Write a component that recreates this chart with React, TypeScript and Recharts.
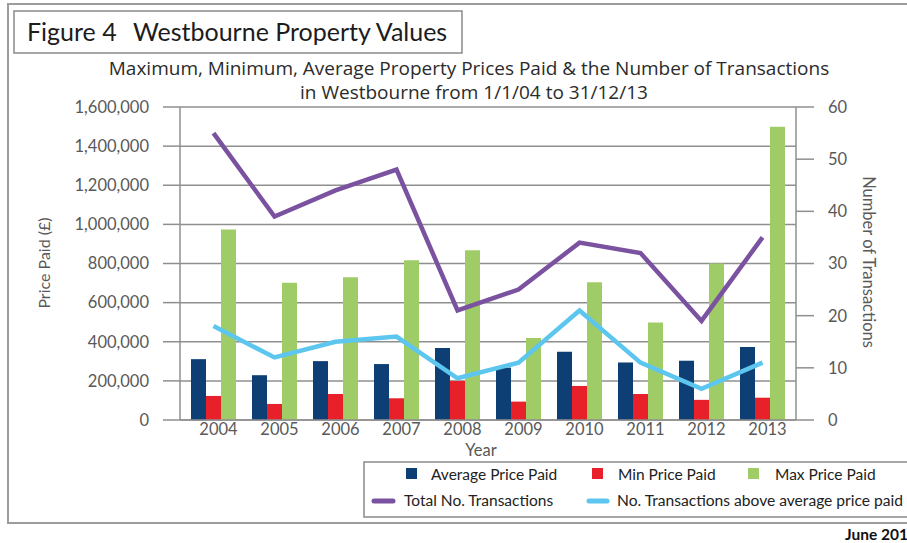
import React from 'react';
import { ComposedChart, Bar, Line, XAxis, YAxis, CartesianGrid } from 'recharts';

const years = ['2004', '2005', '2006', '2007', '2008', '2009', '2010', '2011', '2012', '2013'];
const avgPrice = [311000, 229000, 301000, 286000, 368000, 268000, 349000, 294000, 303000, 373000];
const minPrice = [123000, 82000, 133000, 111000, 200000, 94000, 174000, 133000, 103000, 114000];
const maxPrice = [974000, 701000, 730000, 817000, 868000, 419000, 704000, 499000, 800000, 1499000];
const totalTx = [55, 39, 44, 48, 21, 25, 34, 32, 19, 35];
const aboveAvgTx = [18, 12, 15, 16, 8, 11, 21, 11, 6, 11];

const priceTicks = [0, 200000, 400000, 600000, 800000, 1000000, 1200000, 1400000, 1600000];
const txTicks = [0, 10, 20, 30, 40, 50, 60];

const data = years.map((year, i) => ({
  year,
  avg: avgPrice[i],
  min: minPrice[i],
  max: maxPrice[i],
  total: totalTx[i],
  above: aboveAvgTx[i],
}));

const FONT = 'Lato, "Open Sans", sans-serif';
const WIDE_FONT = '"Open Sans", Lato, sans-serif';
const GRID = '#8f8f8f';
const TICK_TEXT = '#595959';

const NAVY = '#0d3f74';
const RED = '#e8202a';
const GREEN = '#a0cc67';
const PURPLE = '#7a52a0';
const CYAN = '#5cc6ee';

const YearTick = (props: any) => {
  const { x, y, payload } = props;
  return (
    <text x={x + 5} y={y} dy={13} textAnchor="middle" fontSize={16.5} fill={TICK_TEXT} fontFamily={FONT}>
      {payload.value}
    </text>
  );
};

export default function App() {
  return (
    <div style={{ position: 'absolute', left: 0, top: 0, width: 907, height: 543, background: '#fff', overflow: 'hidden' }}>
      <ComposedChart
        width={907}
        height={543}
        data={data}
        margin={{ top: 107, right: 51, bottom: 93, left: 100 }}
        barGap={0}
        barSize={15}
      >
        <CartesianGrid yAxisId="left" vertical={false} stroke={GRID} strokeWidth={1.5} />
        <XAxis
          dataKey="year"
          height={30}
          padding={{ left: 3, right: 3 }}
          tickLine={false}
          tickSize={0}
          tickMargin={2}
          axisLine={{ stroke: GRID, strokeWidth: 1.5 }}
          tick={<YearTick />}
        />
        <YAxis
          yAxisId="left"
          width={80}
          domain={[0, 1600000]}
          ticks={priceTicks}
          tickSize={17}
          tickMargin={14}
          axisLine={{ stroke: GRID, strokeWidth: 1.5 }}
          tickLine={{ stroke: GRID, strokeWidth: 1.5 }}
          tick={{ fontSize: 16.5, fill: TICK_TEXT, fontFamily: FONT }}
          tickFormatter={(v: number) => v.toLocaleString('en-US')}
        />
        <YAxis
          yAxisId="right"
          orientation="right"
          width={60}
          domain={[0, 60]}
          ticks={txTicks}
          tickSize={18}
          tickMargin={14}
          axisLine={{ stroke: GRID, strokeWidth: 1.5 }}
          tickLine={{ stroke: GRID, strokeWidth: 1.5 }}
          tick={{ fontSize: 16.5, fill: TICK_TEXT, fontFamily: FONT }}
        />
        <Bar yAxisId="left" dataKey="avg" name="Average Price Paid" fill={NAVY} isAnimationActive={false} />
        <Bar yAxisId="left" dataKey="min" name="Min Price Paid" fill={RED} isAnimationActive={false} />
        <Bar yAxisId="left" dataKey="max" name="Max Price Paid" fill={GREEN} isAnimationActive={false} />
        <Line
          yAxisId="right"
          type="linear"
          dataKey="total"
          name="Total No. Transactions"
          stroke={PURPLE}
          strokeWidth={4.5}
          dot={false}
          isAnimationActive={false}
        />
        <Line
          yAxisId="right"
          type="linear"
          dataKey="above"
          name="No. Transactions above average price paid"
          stroke={CYAN}
          strokeWidth={4.5}
          dot={false}
          isAnimationActive={false}
        />
      </ComposedChart>

      {/* frame, titles, axis labels and legend */}
      <svg
        width={907}
        height={543}
        style={{ position: 'absolute', left: 0, top: 0, pointerEvents: 'none' }}
        fontFamily={FONT}
      >
        <rect x={8} y={4} width={930} height={519} fill="none" stroke="#9c9c9c" strokeWidth={2} />
        <rect x={14} y={11} width={448} height={42} fill="none" stroke="#8a8a8a" strokeWidth={1.5} />
        <text x={27} y={41} fontSize={25} fill="#1c1c1c">Figure 4</text>
        <text x={133} y={41} fontSize={25} fill="#1c1c1c">Westbourne Property Values</text>
        <text x={469} y={75} textAnchor="middle" fontSize={19} fill="#2b2b2b" fontFamily={WIDE_FONT}>
          Maximum, Minimum, Average Property Prices Paid &amp; the Number of Transactions
        </text>
        <text x={474} y={99} textAnchor="middle" fontSize={19} fill="#2b2b2b" fontFamily={WIDE_FONT}>
          in Westbourne from 1/1/04 to 31/12/13
        </text>
        <text x={50} y={263} textAnchor="middle" fontSize={16} fill={TICK_TEXT} transform="rotate(-90 50 263)">
          Price Paid (£)
        </text>
        <text x={863} y={262} textAnchor="middle" fontSize={16.5} fill={TICK_TEXT} transform="rotate(90 863 262)">
          Number of Transactions
        </text>
        <text x={481} y={456} textAnchor="middle" fontSize={16.5} fill={TICK_TEXT}>
          Year
        </text>

        <rect x={364} y={462} width={570} height={55} fill="#fff" stroke="#8a8a8a" strokeWidth={1.5} />
        <rect x={406} y={468} width={11} height={11} fill={NAVY} />
        <text x={431} y={480} fontSize={15.5} fill="#222">Average Price Paid</text>
        <rect x={592} y={468} width={11} height={11} fill={RED} />
        <text x={618} y={480} fontSize={15.5} fill="#222">Min Price Paid</text>
        <rect x={748} y={468} width={11} height={11} fill={GREEN} />
        <text x={775} y={480} fontSize={15.5} fill="#222">Max Price Paid</text>
        <line x1={374} y1={501} x2={393} y2={501} stroke={PURPLE} strokeWidth={5} strokeLinecap="round" />
        <text x={404} y={506} fontSize={15.5} fill="#222">Total No. Transactions</text>
        <line x1={589} y1={501} x2={607} y2={501} stroke={CYAN} strokeWidth={5} strokeLinecap="round" />
        <text x={617} y={506} fontSize={15.5} fill="#222" textLength={286} lengthAdjust="spacingAndGlyphs">
          No. Transactions above average price paid
        </text>

        <text x={845} y={540} fontSize={15.5} fontWeight="bold" fill="#111">June 201</text>
      </svg>
    </div>
  );
}
